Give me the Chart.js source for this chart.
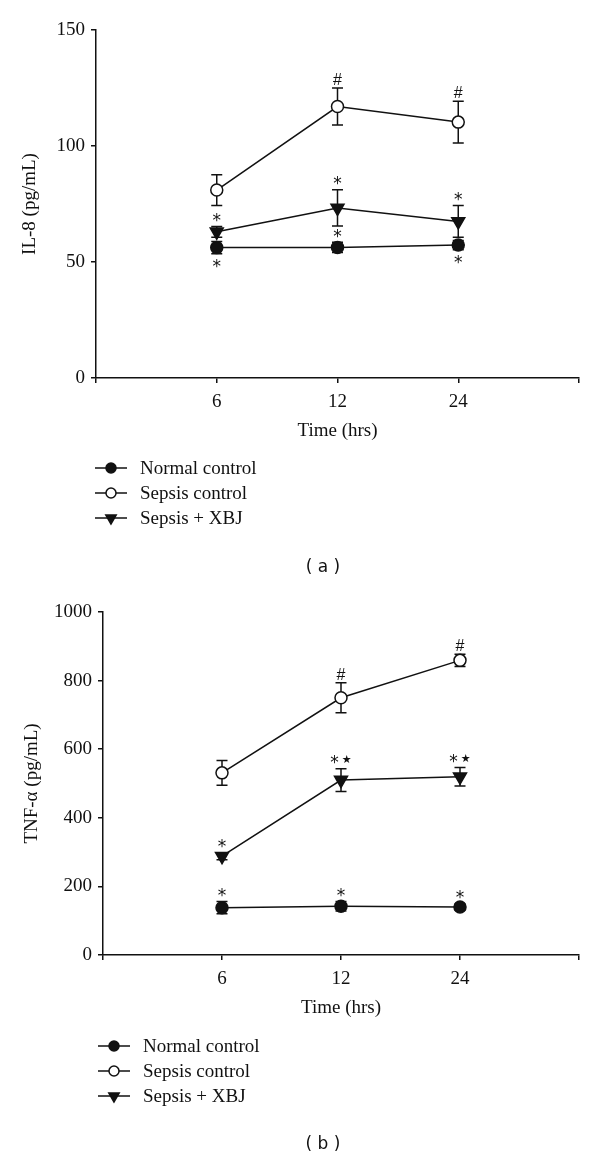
<!DOCTYPE html>
<html>
<head>
<meta charset="utf-8">
<script src="https://cdn.jsdelivr.net/npm/chart.js@4"></script>
<style>
  html, body { margin: 0; padding: 0; background: #fff; }
  body { width: 600px; height: 1159px; position: relative; overflow: hidden; }
  canvas { position: absolute; left: 0; }
  #chartA { top: 0; }
  #chartB { top: 580px; }
  .caption { position: absolute; width: 100px; text-align: center; font: 17px "DejaVu Sans", sans-serif; color: #111; }
</style>
</head>
<body>
<canvas id="chartA" width="600" height="580"></canvas>
<canvas id="chartB" width="600" height="579"></canvas>
<div class="caption" style="left:273px; top:556px;">( a )</div>
<div class="caption" style="left:273px; top:1133px;">( b )</div>
<script>
// time points (hrs)
const timeLabels = ['6', '12', '24'];
const seriesNames = ['Normal control', 'Sepsis control', 'Sepsis + XBJ'];

// (a) IL-8 (pg/mL)
const il8Normal = [56.2, 56.3, 57.3];
const il8NormalErr = [2.6, 2.2, 2.0];
const il8Sepsis = [81, 117, 110.3];
const il8SepsisErr = [6.6, 8, 9];
const il8Xbj = [63, 73.3, 67.5];
const il8XbjErr = [2.3, 7.8, 6.8];
const il8NormalMarks = ['*', '*', '*'];
const il8NormalSide = ['below', 'above', 'below'];
const il8SepsisMarks = ['', '#', '#'];
const il8XbjMarks = ['*', '*', '*'];

// (b) TNF-alpha (pg/mL)
const tnfNormal = [138, 142, 140];
const tnfNormalErr = [18, 14, 9];
const tnfSepsis = [531, 750, 859];
const tnfSepsisErr = [36, 44, 18];
const tnfXbj = [288, 510, 520];
const tnfXbjErr = [10, 33, 27];
const tnfNormalMarks = ['*', '*', '*'];
const tnfNormalSide = ['above', 'above', 'above'];
const tnfSepsisMarks = ['', '#', '#'];
const tnfXbjMarks = ['*', '*\u2605', '*\u2605'];

const serifFont = '"Liberation Serif", "Times New Roman", serif';
// font per significance glyph
const glyphFonts = {
  '*': '17px "DejaVu Sans", sans-serif',
  '#': '16px "Liberation Sans", sans-serif',
  '\u2605': '11px "DejaVu Sans", sans-serif'
};

function toPoints(values) {
  return values.map((v, i) => ({ x: i + 1, y: v }));
}

function drawMark(ctx, text, cx, cy) {
  const chars = Array.from(text);
  const gap = 3;
  const widths = chars.map((c) => {
    ctx.font = glyphFonts[c];
    return ctx.measureText(c).width;
  });
  const total = widths.reduce((a, b) => a + b, 0) + gap * (chars.length - 1);
  let x = cx - total / 2;
  chars.forEach((c, i) => {
    ctx.font = glyphFonts[c];
    const m = ctx.measureText(c);
    const base = cy + (m.actualBoundingBoxAscent - m.actualBoundingBoxDescent) / 2;
    ctx.fillText(c, x, base);
    x += widths[i] + gap;
  });
}

// error bars under the markers, significance marks over them
const errorBarPlugin = {
  id: 'errorBars',
  beforeDatasetsDraw(chart) {
    const ctx = chart.ctx;
    const yScale = chart.scales.y;
    ctx.save();
    ctx.strokeStyle = '#111';
    ctx.lineWidth = 1.5;
    chart.data.datasets.forEach((ds, di) => {
      const meta = chart.getDatasetMeta(di);
      meta.data.forEach((pt, i) => {
        const v = ds.data[i].y;
        const e = ds.errors[i];
        const yTop = yScale.getPixelForValue(v + e);
        const yBot = yScale.getPixelForValue(v - e);
        ctx.beginPath();
        ctx.moveTo(pt.x, yTop);
        ctx.lineTo(pt.x, yBot);
        ctx.moveTo(pt.x - 5.5, yTop);
        ctx.lineTo(pt.x + 5.5, yTop);
        ctx.moveTo(pt.x - 5.5, yBot);
        ctx.lineTo(pt.x + 5.5, yBot);
        ctx.stroke();
      });
    });
    ctx.restore();
  },
  afterDatasetsDraw(chart) {
    const ctx = chart.ctx;
    const yScale = chart.scales.y;
    ctx.save();
    ctx.fillStyle = '#111';
    ctx.textAlign = 'left';
    chart.data.datasets.forEach((ds, di) => {
      const meta = chart.getDatasetMeta(di);
      meta.data.forEach((pt, i) => {
        const t = ds.marks[i];
        if (!t) return;
        const side = ds.sides ? ds.sides[i] : 'above';
        const v = ds.data[i].y;
        const e = ds.errors[i];
        const cy = side === 'above'
          ? yScale.getPixelForValue(v + e) - 9
          : yScale.getPixelForValue(v - e) + 10;
        drawMark(ctx, t, pt.x, cy);
      });
    });
    ctx.restore();
  }
};

function drawLegendPoint(ctx, ds, x, y) {
  ctx.fillStyle = ds.pointBackgroundColor;
  ctx.strokeStyle = '#111';
  ctx.lineWidth = 1.5;
  Chart.helpers.drawPoint(ctx, {
    pointStyle: ds.pointStyle,
    rotation: ds.pointRotation || 0,
    radius: ds.pointStyle === 'triangle' ? 6 : 5,
    borderWidth: 1.5
  }, x, y);
}

// legend under the axis: line + marker + name
const legendPlugin = {
  id: 'sideLegend',
  afterDraw(chart, args, opts) {
    const ctx = chart.ctx;
    ctx.save();
    chart.data.datasets.forEach((ds, i) => {
      const y = opts.top + i * opts.rowGap;
      ctx.strokeStyle = '#111';
      ctx.lineWidth = 1.5;
      ctx.beginPath();
      ctx.moveTo(opts.x0, y);
      ctx.lineTo(opts.x0 + 32, y);
      ctx.stroke();
      drawLegendPoint(ctx, ds, opts.x0 + 16, y);
      ctx.fillStyle = '#111';
      ctx.font = '19px ' + serifFont;
      ctx.textBaseline = 'middle';
      ctx.fillText(ds.label, opts.textX, y + 1);
    });
    ctx.restore();
  }
};

function makeDatasets(normal, normalErr, sepsis, sepsisErr, xbj, xbjErr, marks) {
  const base = {
    borderColor: '#111',
    borderWidth: 1.5,
    pointBorderColor: '#111',
    pointBorderWidth: 1.5,
    tension: 0,
    fill: false
  };
  return [
    Object.assign({}, base, {
      label: seriesNames[0], data: toPoints(normal), errors: normalErr,
      marks: marks.normal, sides: marks.normalSide,
      pointStyle: 'circle', pointRadius: 6, pointBackgroundColor: '#111'
    }),
    Object.assign({}, base, {
      label: seriesNames[1], data: toPoints(sepsis), errors: sepsisErr,
      marks: marks.sepsis,
      pointStyle: 'circle', pointRadius: 6, pointBackgroundColor: '#fff'
    }),
    Object.assign({}, base, {
      label: seriesNames[2], data: toPoints(xbj), errors: xbjErr,
      marks: marks.xbj,
      pointStyle: 'triangle', pointRotation: 180, pointRadius: 7.5, pointBackgroundColor: '#111'
    })
  ];
}

function makeChart(canvasId, datasets, cfg) {
  const ctx = document.getElementById(canvasId).getContext('2d');
  return new Chart(ctx, {
    type: 'line',
    data: { datasets },
    options: {
      responsive: false,
      animation: false,
      devicePixelRatio: 1,
      layout: { padding: { left: 0, right: 21, top: cfg.padTop, bottom: cfg.padBottom } },
      plugins: {
        legend: { display: false },
        tooltip: { enabled: false },
        sideLegend: cfg.legend
      },
      scales: {
        x: {
          type: 'linear',
          min: 0,
          max: 4,
          afterFit(scale) { scale.height = 64; },
          afterBuildTicks(scale) { scale.ticks = [0, 1, 2, 3, 4].map((v) => ({ value: v })); },
          ticks: {
            padding: 8,
            color: '#111',
            font: { family: serifFont, size: 19 },
            maxRotation: 0,
            callback: (v) => timeLabels[v - 1] || ''
          },
          grid: { display: true, drawOnChartArea: false, drawTicks: true, tickLength: 5, color: '#111', lineWidth: 1.5 },
          border: { display: true, color: '#111', width: 1.5 },
          title: { display: true, text: 'Time (hrs)', color: '#111', font: { family: serifFont, size: 19 }, padding: { top: 0, bottom: 0 } }
        },
        y: {
          min: 0,
          max: cfg.yMax,
          afterFit(scale) { scale.width = cfg.axisLeft; },
          ticks: {
            stepSize: cfg.yStep,
            padding: 6,
            color: '#111',
            font: { family: serifFont, size: 19 },
            callback: (v) => String(v)
          },
          grid: { display: true, drawOnChartArea: false, drawTicks: true, tickLength: 5, color: '#111', lineWidth: 1.5 },
          border: { display: true, color: '#111', width: 1.5 },
          title: { display: true, text: cfg.yTitle, color: '#111', font: { family: serifFont, size: 19 }, padding: { top: cfg.titlePad, bottom: 0 } }
        }
      }
    },
    plugins: [errorBarPlugin, legendPlugin]
  });
}

makeChart('chartA',
  makeDatasets(il8Normal, il8NormalErr, il8Sepsis, il8SepsisErr, il8Xbj, il8XbjErr,
    { normal: il8NormalMarks, normalSide: il8NormalSide, sepsis: il8SepsisMarks, xbj: il8XbjMarks }),
  {
    yMax: 150, yStep: 50, yTitle: 'IL-8 (pg/mL)', axisLeft: 96, titlePad: 19,
    padTop: 30, padBottom: 138,
    legend: { x0: 95, textX: 140, top: 468, rowGap: 25 }
  });

makeChart('chartB',
  makeDatasets(tnfNormal, tnfNormalErr, tnfSepsis, tnfSepsisErr, tnfXbj, tnfXbjErr,
    { normal: tnfNormalMarks, normalSide: tnfNormalSide, sepsis: tnfSepsisMarks, xbj: tnfXbjMarks }),
  {
    yMax: 1000, yStep: 200, yTitle: 'TNF-\u03b1 (pg/mL)', axisLeft: 103, titlePad: 21,
    padTop: 32, padBottom: 140,
    legend: { x0: 98, textX: 143, top: 466, rowGap: 25 }
  });
</script>
</body>
</html>
